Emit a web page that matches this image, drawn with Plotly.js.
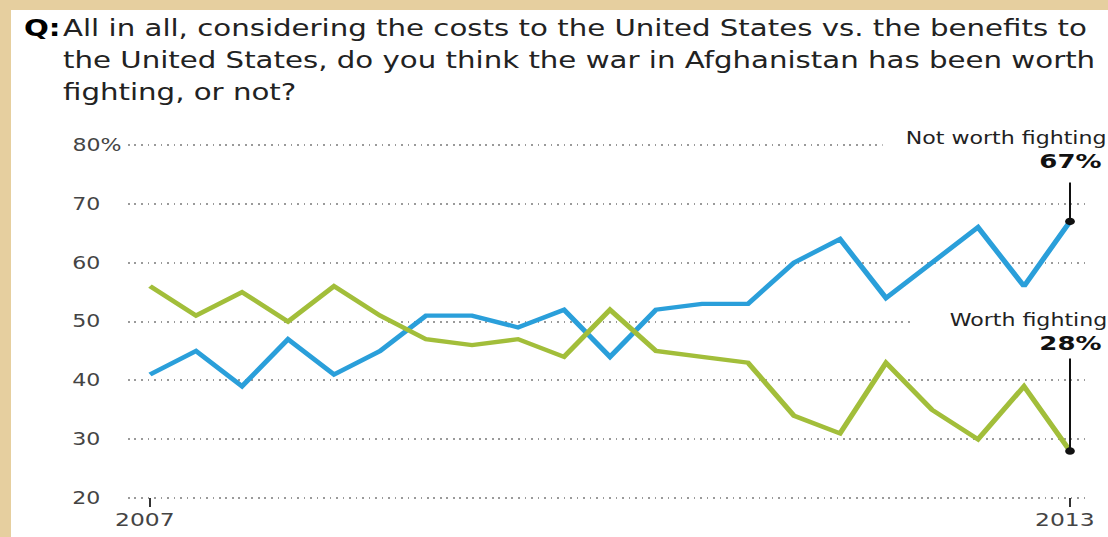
<!DOCTYPE html>
<html>
<head>
<meta charset="utf-8">
<script src="https://cdn.plot.ly/plotly-3.0.1.min.js"></script>
<style>
  html, body { margin: 0; padding: 0; width: 1108px; height: 537px; overflow: hidden;
    background: #e6cf9f; }
  #chart { position: absolute; left: 11px; top: 10px; width: 844px; height: 527px;
    transform: scaleX(1.3); transform-origin: 0 0; background: #ffffff; }
</style>
</head>
<body>
<div id="chart"></div>
<script>
// ---- data ----
const pollIndex = [0, 1, 2, 3, 4, 5, 6, 7, 8, 9, 10, 11, 12, 13, 14, 15, 16, 17, 18, 19, 20];
const yearTickIndex = [0, 20];
const yearTickLabels = ['2007', '2013'];
const notWorthFighting = [41, 45, 39, 47, 41, 45, 51, 51, 49, 52, 44, 52, 53, 53, 60, 64, 54, 60, 66, 56, 67];
const worthFighting    = [56, 51, 55, 50, 56, 51, 47, 46, 47, 44, 52, 45, 44, 43, 34, 31, 43, 35, 30, 39, 28];
const yTickValues = [20, 30, 40, 50, 60, 70, 80];
const yTickLabels = ['20', '30', '40', '50', '60', '70', '80%'];
const seriesNames = ['Not worth fighting', 'Worth fighting'];
const questionPrefix = 'Q:';
const questionLines = [
  'All in all, considering the costs to the United States vs. the benefits to',
  'the United States, do you think the war in Afghanistan has been worth',
  'fighting, or not?'
];

// ---- styling / geometry ----
const BLUE = '#2a9fda';
const GREEN = '#a2be3a';
const FONT = 'DejaVu Sans, Verdana, sans-serif';
const NB = '\u00a0';

// page-pixel -> paper helpers (plot area spans page x 128..1090, page y bottom 507, height 368)
const px = x => (x - 128) / 962;
const py = y => (507 - y) / 368;

const lastI = pollIndex.length - 1;
const yPix = v => 145 + (80 - v) * 5.888;   // page y of a value, for arrow offsets only

const yText = yTickLabels.map(t => t.indexOf('%') >= 0 ? t : t + NB + NB + NB);

const traces = [
  { x: pollIndex, y: notWorthFighting, name: seriesNames[0], type: 'scatter', mode: 'lines',
    line: { color: BLUE, width: 4.3, shape: 'linear' }, hoverinfo: 'skip' },
  { x: pollIndex, y: worthFighting, name: seriesNames[1], type: 'scatter', mode: 'lines',
    line: { color: GREEN, width: 4.3, shape: 'linear' }, hoverinfo: 'skip' },
  { x: [pollIndex[lastI], pollIndex[lastI]], y: [notWorthFighting[lastI], worthFighting[lastI]],
    type: 'scatter', mode: 'markers', marker: { color: '#111', size: 7.5 }, hoverinfo: 'skip' }
];

const annotations = [];
annotations.push({ xref: 'paper', yref: 'paper', x: px(21), y: py(28), xanchor: 'left', yanchor: 'middle',
  text: '<b>' + questionPrefix + '</b>', showarrow: false,
  font: { family: FONT, size: 22.5, color: '#000' } });
const lineCenters = [28, 60, 92];
questionLines.forEach((t, i) => {
  annotations.push({ xref: 'paper', yref: 'paper', x: px(60), y: py(lineCenters[i]),
    xanchor: 'left', yanchor: 'middle', text: t, showarrow: false, align: 'left',
    font: { family: FONT, size: 22.5, color: '#222' } });
});
annotations.push({ xref: 'paper', yref: 'paper', x: px(1110), y: py(138), xanchor: 'right', yanchor: 'middle',
  text: NB + NB + NB + seriesNames[0], showarrow: false, bgcolor: '#ffffff', borderpad: 1,
  font: { family: FONT, size: 17, color: '#222' } });
annotations.push({ xref: 'paper', yref: 'paper', x: px(1110), y: py(320), xanchor: 'right', yanchor: 'middle',
  text: NB + NB + NB + NB + NB + seriesNames[1], showarrow: false, bgcolor: '#ffffff', borderpad: 1,
  font: { family: FONT, size: 17, color: '#222' } });
annotations.push({ xref: 'x', yref: 'y', x: pollIndex[lastI], y: notWorthFighting[lastI],
  text: '<b>' + notWorthFighting[lastI] + '%</b>', showarrow: true, arrowhead: 0, arrowwidth: 1.5,
  arrowcolor: '#111', ax: 0, ay: 161 - yPix(notWorthFighting[lastI]), startstandoff: 8, standoff: 0,
  font: { family: FONT, size: 20, color: '#111' } });
annotations.push({ xref: 'x', yref: 'y', x: pollIndex[lastI], y: worthFighting[lastI],
  text: '<b>' + worthFighting[lastI] + '%</b>', showarrow: true, arrowhead: 0, arrowwidth: 1.5,
  arrowcolor: '#111', ax: 0, ay: 343 - yPix(worthFighting[lastI]), startstandoff: 2, standoff: 0,
  font: { family: FONT, size: 20, color: '#111' } });

const layout = {
  width: 844, height: 527,
  margin: { l: 90, r: 14, t: 129, b: 30, pad: 0 },
  paper_bgcolor: '#ffffff', plot_bgcolor: '#ffffff',
  showlegend: false,
  font: { family: FONT, color: '#444' },
  xaxis: {
    range: [-22 / 46, 20 + 20 / 46], showgrid: false, zeroline: false, showline: false,
    tickmode: 'array', tickvals: yearTickIndex, ticktext: yearTickLabels, ticklabeloverflow: 'allow',
    ticklabelshift: -4,
    ticks: 'inside', ticklen: 9, tickwidth: 1.6, tickcolor: '#333',
    tickfont: { family: FONT, size: 18, color: '#444' }, fixedrange: true
  },
  yaxis: {
    range: [18.5, 81], showgrid: true, gridcolor: '#9a9a9a', gridwidth: 2, griddash: '1.5px,3.5px',
    zeroline: false, showline: false, ticks: '',
    tickmode: 'array', tickvals: yTickValues, ticktext: yText, ticklabelstandoff: 4,
    tickfont: { family: FONT, size: 17, color: '#444' }, fixedrange: true
  },
  annotations: annotations
};

Plotly.newPlot('chart', traces, layout, { staticPlot: true, displayModeBar: false });
</script>
</body>
</html>
